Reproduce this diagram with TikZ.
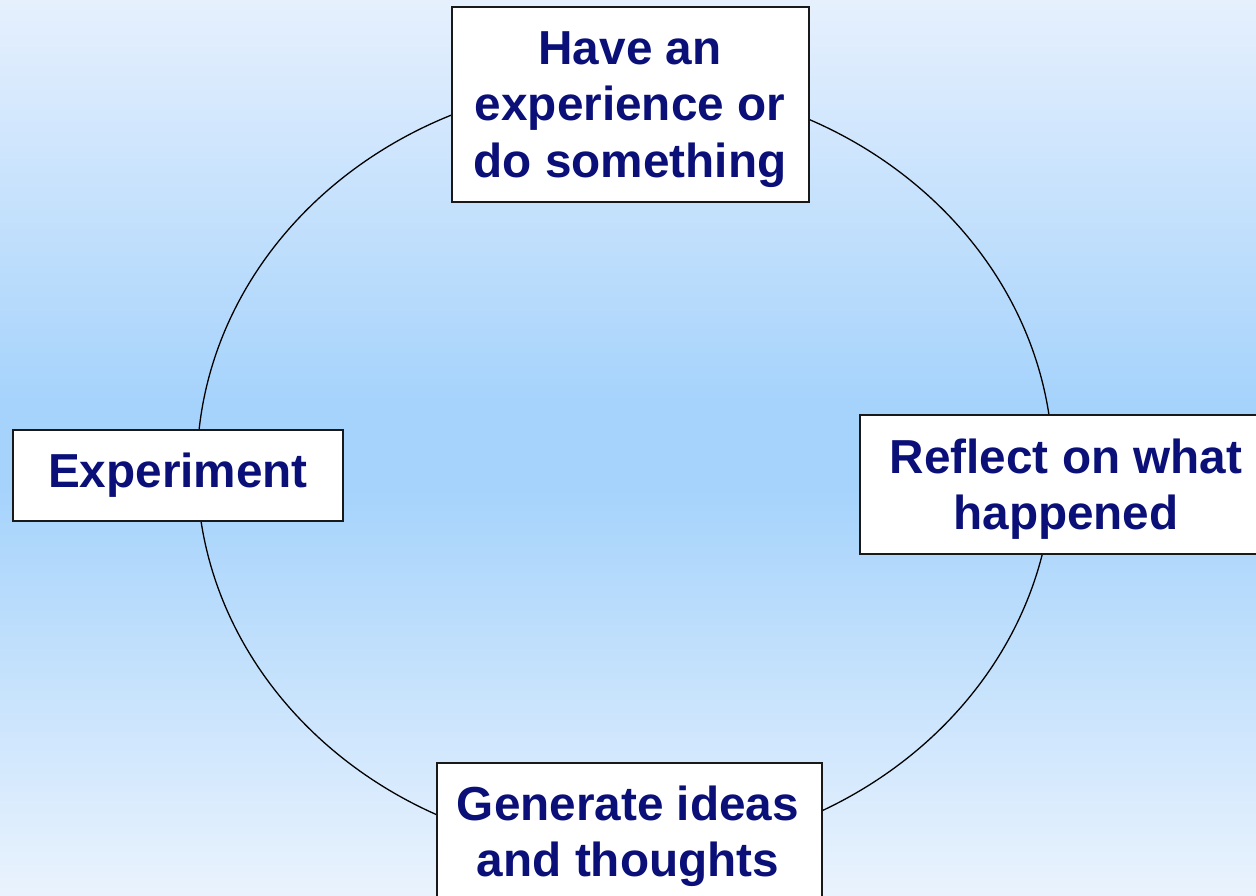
\documentclass[tikz,border=0pt]{standalone}
\usepackage{fontspec}
\setmainfont{Liberation Sans}
\definecolor{navytext}{RGB}{10,16,120}
\definecolor{bgtop}{RGB}{230,240,253}
\definecolor{bgmid}{RGB}{166,211,252}
\definecolor{bgbot}{RGB}{234,243,253}
\begin{document}
\begin{tikzpicture}[x=1pt,y=-1pt,
  box/.style={draw=black!90, line width=1.6pt, fill=white, rectangle, inner sep=0pt, outer sep=0pt},
  lbl/.style={text=navytext, font=\fontsize{47.7}{56.5}\selectfont\bfseries, align=center, inner sep=0pt},
  cyc/.style={draw=black, line width=1.3pt}]
% background gradient (light - blue - light)
\shade[top color=bgtop, bottom color=bgmid] (0,0) rectangle (1256,400.5);
\fill[bgmid] (0,400) rectangle (1256,490.5);
\shade[top color=bgmid, bottom color=bgbot] (0,490) rectangle (1256,896);
\useasboundingbox (0,0) rectangle (1256,896);
% cycle
\draw[cyc] (625,468) ellipse [x radius=428pt, y radius=386pt];
% boxes
\node[box, minimum width=357pt, minimum height=195pt] (boxtop) at (630.5,104.5) {};
\node[box, minimum width=405pt, minimum height=139pt] (boxright) at (1062.5,484.5) {};
\node[box, minimum width=330pt, minimum height=91pt] (boxleft) at (178,475.5) {};
\node[box, minimum width=385pt, minimum height=147pt] (boxbottom) at (629.5,836.5) {};
% labels
\node[lbl] (ttop) at (630,109.3) {Have an\\experience or\\do something};
\node[lbl] (tright) at (1066,489) {Reflect on what\\happened};
\node[lbl] (tleft) at (178,475.2) {Experiment};
\node[lbl] (tbottom) at (628,836.5) {Generate ideas\\and thoughts};
\end{tikzpicture}
\end{document}
